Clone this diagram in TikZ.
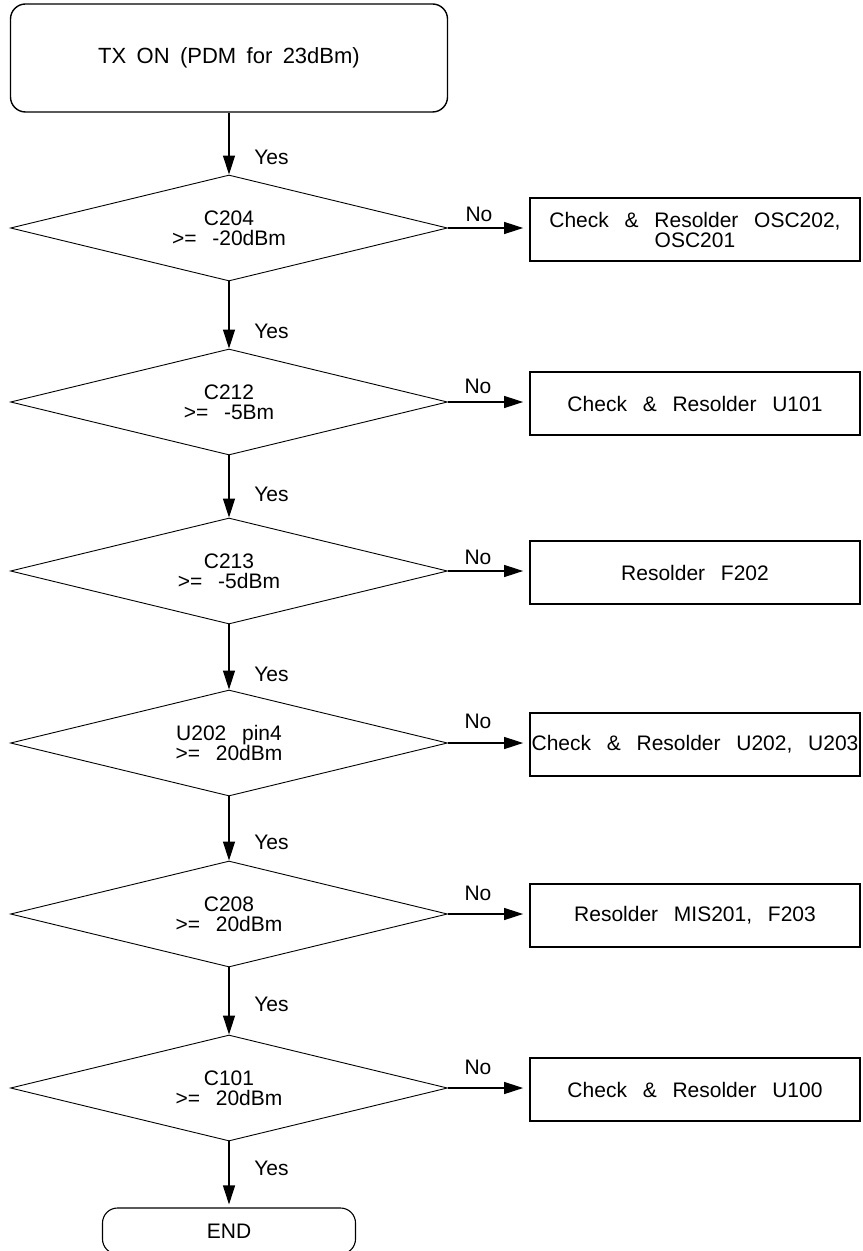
\documentclass[tikz,border=0pt]{standalone}
\usepackage{fontspec}
\setmainfont{Liberation Sans}[WordSpace=2.7]
\newfontfamily\topfont{Liberation Sans}[WordSpace=1.7]
\usetikzlibrary{shapes.geometric,arrows.meta}

\begin{document}
\begin{tikzpicture}[x=0.5pt,y=-0.5pt,every node/.style={font=\fontsize{10.5}{10}\selectfont},
  terminal/.style={draw,line width=0.7pt,rounded corners=7.5pt,inner sep=0pt},
  decision/.style={draw,diamond,aspect=4.1,line width=0.45pt,minimum width=218.5pt,minimum height=53pt,inner sep=0pt,align=center},
  action/.style={draw,line width=0.9pt,minimum width=165pt,minimum height=31.5pt,inner sep=0pt,align=center},
  flow/.style={-{Triangle[length=9.5pt,width=6pt]},line width=0.6pt},
  lbl/.style={inner sep=0pt}]
  \useasboundingbox (0,0) rectangle (862,1251);
  \clip (0,0) rectangle (862,1251);
  % main column
  \node[terminal,minimum width=218.5pt,minimum height=54pt,font={\topfont\fontsize{11}{13}\selectfont}] (txon) at (229,58) {TX ON (PDM for 23dBm)};
  \node[decision] (c204) at (229,228) {C204\\>= -20dBm};
  \node[decision] (c212) at (229,402) {C212\\>= -5Bm};
  \node[decision] (c213) at (229,571) {C213\\>= -5dBm};
  \node[decision] (u202) at (229,743) {U202 pin4\\>= 20dBm};
  \node[decision] (c208) at (229,914) {C208\\>= 20dBm};
  \node[decision] (c101) at (229,1088) {C101\\>= 20dBm};
  \node[terminal,line width=0.55pt,minimum width=126.5pt,minimum height=23pt] (fin) at (229,1231) {END};
  % repair actions
  \node[action] (fixosc) at (695,229.5) {Check \& Resolder OSC202,\\OSC201};
  \node[action] (fixu101) at (695,403.5) {Check \& Resolder U101};
  \node[action] (fixf202) at (695,572.5) {Resolder F202};
  \node[action] (fixu202) at (695,744.5) {Check \& Resolder U202, U203};
  \node[action] (fixmis) at (695,915.5) {Resolder MIS201, F203};
  \node[action] (fixu100) at (695,1089.5) {Check \& Resolder U100};
  % yes path
  \draw[flow] (txon) -- (c204);
  \draw[flow] (c204) -- (c212);
  \draw[flow] (c212) -- (c213);
  \draw[flow] (c213) -- (u202);
  \draw[flow] (u202) -- (c208);
  \draw[flow] (c208) -- (c101);
  \draw[flow,shorten >=1.5pt] (c101) -- (fin);
  \node[lbl,anchor=west] (yes1) at (254,157) {Yes};
  \node[lbl,anchor=west] (yes2) at (254,331) {Yes};
  \node[lbl,anchor=west] (yes3) at (254,494) {Yes};
  \node[lbl,anchor=west] (yes4) at (254,674) {Yes};
  \node[lbl,anchor=west] (yes5) at (254,842) {Yes};
  \node[lbl,anchor=west] (yes6) at (254,1004) {Yes};
  \node[lbl,anchor=west] (yes7) at (254,1168) {Yes};
  % no branches
  \draw[flow,shorten >=3pt] (c204.east) -- (c204.east -| fixosc.west);
  \draw[flow,shorten >=3pt] (c212.east) -- (c212.east -| fixu101.west);
  \draw[flow,shorten >=3pt] (c213.east) -- (c213.east -| fixf202.west);
  \draw[flow,shorten >=3pt] (u202.east) -- (u202.east -| fixu202.west);
  \draw[flow,shorten >=3pt] (c208.east) -- (c208.east -| fixmis.west);
  \draw[flow,shorten >=3pt] (c101.east) -- (c101.east -| fixu100.west);
  \node[lbl] (no1) at (479,214) {No};
  \node[lbl] (no2) at (478,386) {No};
  \node[lbl] (no3) at (478,557) {No};
  \node[lbl] (no4) at (478,721) {No};
  \node[lbl] (no5) at (478,893) {No};
  \node[lbl] (no6) at (478,1067) {No};
\end{tikzpicture}
\end{document}
